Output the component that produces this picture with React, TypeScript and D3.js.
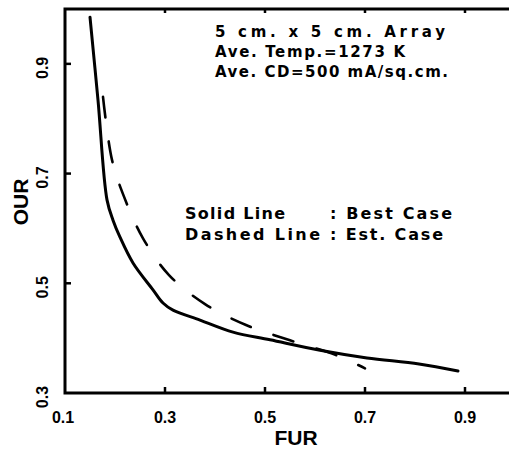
import React from "react";
import * as d3 from "d3";

const solidFUR = [0.150, 0.166, 0.184, 0.196, 0.210, 0.236, 0.276, 0.296, 0.316, 0.370, 0.436, 0.510, 0.610, 0.704, 0.808, 0.886];
const solidOUR = [0.985, 0.834, 0.652, 0.615, 0.584, 0.537, 0.488, 0.464, 0.451, 0.433, 0.411, 0.397, 0.378, 0.364, 0.353, 0.340];

const dashedFUR = [0.176, 0.194, 0.218, 0.256, 0.308, 0.380, 0.462, 0.550, 0.642, 0.700];
const dashedOUR = [0.840, 0.725, 0.658, 0.582, 0.515, 0.462, 0.424, 0.396, 0.369, 0.345];

const xTicks = [0.1, 0.3, 0.5, 0.7, 0.9];
const yTicks = [0.3, 0.5, 0.7, 0.9];

const infoLines = ["5 cm. x 5 cm. Array", "Ave. Temp.=1273 K", "Ave. CD=500 mA/sq.cm."];
const legendNames = ["Solid Line", "Dashed Line"];
const legendCases = [": Best Case", ": Est. Case"];

export default function App() {
  const W = 509, H = 449;
  const x = d3.scaleLinear().domain([0.1, 1.0]).range([65, 515]);
  const y = d3.scaleLinear().domain([0.3, 1.0]).range([393, 9]);
  const line = d3
    .line<[number, number]>()
    .x((d) => x(d[0]))
    .y((d) => y(d[1]))
    .curve(d3.curveCatmullRom.alpha(0.5));
  const solid = solidFUR.map((v, i) => [v, solidOUR[i]] as [number, number]);
  const dashed = dashedFUR.map((v, i) => [v, dashedOUR[i]] as [number, number]);
  const font = "'Liberation Sans', Arial, sans-serif";
  const lfont = "'DejaVu Sans', sans-serif";
  const x0 = x(0.1);
  const yb = y(0.3);
  const yt = y(1.0);
  const infoW = [230, 190, 233];
  const nameW = [100, 135];
  const caseW = [122, 113];
  return (
    <svg
      width={W}
      height={H}
      style={{ position: "absolute", left: 0, top: 0, background: "#fff" }}
    >
      <rect x={0} y={0} width={W} height={H} fill="#fff" />
      <path
        d={`M${W},${yt} L${x0},${yt} L${x0},${yb} L${W},${yb}`}
        fill="none"
        stroke="#000"
        strokeWidth={3}
      />
      {xTicks.slice(1).map((t) => (
        <g key={"xt" + t}>
          <line x1={x(t)} x2={x(t)} y1={yb} y2={yb - 6} stroke="#000" strokeWidth={2.5} />
          <line x1={x(t)} x2={x(t)} y1={yt} y2={yt + 4} stroke="#000" strokeWidth={2.5} />
        </g>
      ))}
      {yTicks.slice(1).map((t) => (
        <line key={"yt" + t} x1={x0} x2={x0 + 6} y1={y(t)} y2={y(t)} stroke="#000" strokeWidth={2.5} />
      ))}
      {xTicks.map((t) => (
        <text
          key={"xl" + t}
          x={x(t) - (t === 0.1 ? 2 : 0)}
          y={423}
          textAnchor="middle"
          fontFamily={font}
          fontWeight="bold"
          fontSize={16}
        >
          {t.toFixed(1)}
        </text>
      ))}
      {yTicks.map((t) => (
        <text
          key={"yl" + t}
          transform={`translate(48,${y(t) + 4}) rotate(-90)`}
          textAnchor="middle"
          fontFamily={font}
          fontWeight="bold"
          fontSize={16}
        >
          {t.toFixed(1)}
        </text>
      ))}
      <text x={296} y={445} textAnchor="middle" fontFamily={font} fontWeight="bold" fontSize={21}>
        FUR
      </text>
      <text
        transform={`translate(28,202) rotate(-90)`}
        textAnchor="middle"
        fontFamily={font}
        fontWeight="bold"
        fontSize={21}
      >
        OUR
      </text>
      <path d={line(solid) || ""} fill="none" stroke="#000" strokeWidth={3} strokeLinecap="round" strokeLinejoin="round" />
      <path
        d={line(dashed) || ""}
        fill="none"
        stroke="#000"
        strokeWidth={2.6}
        strokeDasharray="21 24"
        strokeLinecap="round"
      />
      {infoLines.map((s, i) => (
        <text
          key={"info" + i}
          x={215}
          y={37 + i * 20}
          fontFamily={lfont}
          fontWeight="bold"
          fontSize={15}
          textLength={infoW[i]}
          lengthAdjust="spacing"
        >
          {s}
        </text>
      ))}
      {legendNames.map((s, i) => (
        <g key={"leg" + i}>
          <text
            x={185}
            y={219 + i * 21}
            fontFamily={lfont}
            fontWeight="bold"
            fontSize={16}
            textLength={nameW[i]}
            lengthAdjust="spacing"
          >
            {s}
          </text>
          <text
            x={330}
            y={219 + i * 21}
            fontFamily={lfont}
            fontWeight="bold"
            fontSize={16}
            textLength={caseW[i]}
            lengthAdjust="spacing"
          >
            {legendCases[i]}
          </text>
        </g>
      ))}
    </svg>
  );
}
